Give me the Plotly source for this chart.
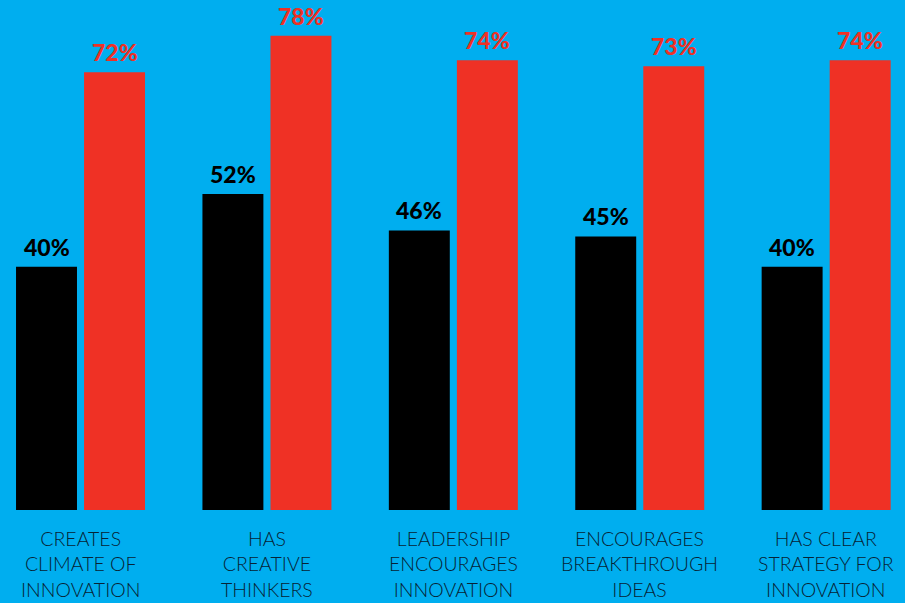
import plotly.graph_objects as go

categories = ["CREATES<br>CLIMATE OF<br>INNOVATION",
              "HAS<br>CREATIVE<br>THINKERS",
              "LEADERSHIP<br>ENCOURAGES<br>INNOVATION",
              "ENCOURAGES<br>BREAKTHROUGH<br>IDEAS",
              "HAS CLEAR<br>STRATEGY FOR<br>INNOVATION"]
black_values = [40, 52, 46, 45, 40]
red_values = [72, 78, 74, 73, 74]

BG = "#00AEEF"
RED = "#EF3125"
xpos = list(range(len(categories)))

fig = go.Figure()
fig.add_trace(go.Bar(
    x=xpos, y=black_values, marker=dict(color="#000000", line=dict(width=0)),
    width=0.327, offset=-0.346, hoverinfo="skip"))
fig.add_trace(go.Bar(
    x=xpos, y=red_values, marker=dict(color=RED, line=dict(width=0)),
    width=0.327, offset=0.019, hoverinfo="skip"))

for i in xpos:
    fig.add_annotation(x=i - 0.1825, y=black_values[i], xref="x", yref="y",
                       text=f"{black_values[i]}%", showarrow=False,
                       yanchor="bottom", yshift=4,
                       font=dict(family="Lato", size=23, color="#000000", weight=900))
    fig.add_annotation(x=i + 0.1825, y=red_values[i], xref="x", yref="y",
                       text=f"{red_values[i]}%", showarrow=False,
                       yanchor="bottom", yshift=4,
                       font=dict(family="Lato", size=23, color=RED, weight=900))

for i, c in enumerate(categories):
    fig.add_annotation(x=i, y=0, xref="x", yref="y", text=c, showarrow=False,
                       yanchor="top", yshift=-15,
                       font=dict(family="Lato", size=19.5, color="#072335", weight=300),
                       align="center")

fig.update_layout(
    width=905, height=603, barmode="overlay",
    paper_bgcolor=BG, plot_bgcolor=BG,
    margin=dict(l=0, r=0, t=0, b=93),
    showlegend=False,
    xaxis=dict(range=[-0.432, 4.423], visible=False, fixedrange=True),
    yaxis=dict(range=[0, 83.9], visible=False, fixedrange=True),
)
fig.write_html("out.html")
